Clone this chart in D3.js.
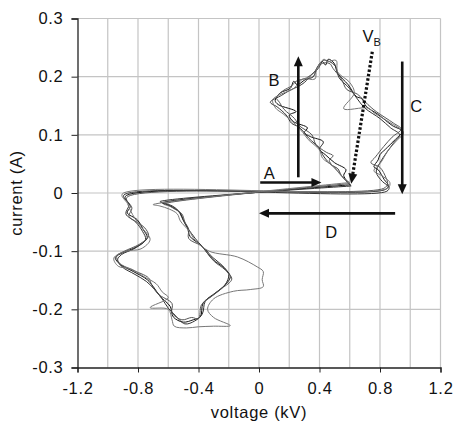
<!DOCTYPE html>
<html><head><meta charset="utf-8">
<script src="https://cdn.jsdelivr.net/npm/d3@7"></script>
<style>
body{margin:0;background:#fff;}
text{font-family:"Liberation Sans",Arial,Helvetica,sans-serif;fill:#111;}
</style></head>
<body><svg id="c" width="456" height="425"></svg>
<script>
// ---- data (voltage kV, current A) ----
const xTicks = [-1.2,-0.8,-0.4,0,0.4,0.8,1.2];
const xTickLabels = ["-1.2","-0.8","-0.4","0","0.4","0.8","1.2"];
const yTicks = [-0.3,-0.2,-0.1,0,0.1,0.2,0.3];
const yTickLabels = ["-0.3","-0.2","-0.1","0","0.1","0.2","0.3"];
const xGrid = [-1.0,-0.8,-0.6,-0.4,-0.2,0,0.2,0.4,0.6,0.8,1.0,1.2];
const yGrid = [-0.2,-0.1,0,0.1,0.2,0.3];

const cycle1Upper = [[0.603,0.014],[0.560,0.030],[0.575,0.040],[0.500,0.052],[0.438,0.066],[0.400,0.075],[0.425,0.088],[0.339,0.097],[0.300,0.104],[0.320,0.112],[0.226,0.123],[0.200,0.134],[0.245,0.140],[0.127,0.152],[0.107,0.159],[0.140,0.172],[0.207,0.180],[0.230,0.192],[0.253,0.186],[0.306,0.195],[0.359,0.200],[0.385,0.216],[0.418,0.226],[0.440,0.220],[0.458,0.230],[0.497,0.223],[0.520,0.206],[0.590,0.186],[0.643,0.166],[0.680,0.162],[0.709,0.149],[0.788,0.135],[0.881,0.116],[0.947,0.106],[0.901,0.092],[0.835,0.075],[0.800,0.066],[0.788,0.057],[0.760,0.045],[0.788,0.040],[0.828,0.023],[0.855,0.013],[0.835,0.006]];
const cycle1Lower = [[-0.884,-0.006],[-0.851,-0.023],[-0.871,-0.034],[-0.805,-0.046],[-0.765,-0.063],[-0.739,-0.077],[-0.805,-0.092],[-0.904,-0.103],[-0.950,-0.111],[-0.917,-0.123],[-0.831,-0.135],[-0.739,-0.149],[-0.699,-0.161],[-0.653,-0.178],[-0.587,-0.195],[-0.567,-0.213],[-0.501,-0.222],[-0.435,-0.218],[-0.388,-0.213],[-0.369,-0.189],[-0.302,-0.175],[-0.236,-0.161],[-0.190,-0.144],[-0.236,-0.128],[-0.302,-0.115],[-0.342,-0.103],[-0.388,-0.089],[-0.455,-0.075],[-0.474,-0.059],[-0.501,-0.046],[-0.521,-0.034],[-0.567,-0.025],[-0.607,-0.020],[-0.640,-0.017]];

const cycle2Upper = [[0.610,0.012],[0.545,0.030],[0.520,0.042],[0.480,0.048],[0.430,0.062],[0.395,0.078],[0.330,0.094],[0.285,0.108],[0.260,0.114],[0.215,0.120],[0.180,0.134],[0.120,0.148],[0.075,0.156],[0.150,0.168],[0.200,0.176],[0.265,0.184],[0.300,0.190],[0.350,0.204],[0.392,0.214],[0.425,0.228],[0.465,0.226],[0.505,0.218],[0.530,0.198],[0.598,0.180],[0.655,0.160],[0.700,0.146],[0.800,0.128],[0.870,0.112],[0.930,0.100],[0.890,0.086],[0.845,0.070],[0.800,0.052],[0.775,0.036],[0.815,0.020],[0.860,0.010],[0.845,0.003]];
const cycle2Lower = [[-0.895,-0.004],[-0.860,-0.020],[-0.880,-0.036],[-0.815,-0.050],[-0.770,-0.066],[-0.750,-0.080],[-0.820,-0.095],[-0.910,-0.106],[-0.935,-0.115],[-0.905,-0.127],[-0.820,-0.140],[-0.745,-0.152],[-0.690,-0.166],[-0.640,-0.182],[-0.600,-0.198],[-0.555,-0.210],[-0.490,-0.225],[-0.425,-0.220],[-0.375,-0.208],[-0.355,-0.186],[-0.290,-0.172],[-0.225,-0.158],[-0.200,-0.140],[-0.245,-0.124],[-0.310,-0.110],[-0.350,-0.098],[-0.400,-0.085],[-0.445,-0.070],[-0.485,-0.055],[-0.510,-0.042],[-0.535,-0.030],[-0.575,-0.022],[-0.620,-0.018],[-0.655,-0.015]];

const cycle3Upper = [[0.595,0.016],[0.525,0.036],[0.465,0.056],[0.490,0.064],[0.445,0.070],[0.375,0.084],[0.350,0.100],[0.265,0.116],[0.235,0.128],[0.165,0.144],[0.135,0.156],[0.115,0.164],[0.160,0.176],[0.215,0.184],[0.245,0.192],[0.315,0.198],[0.365,0.208],[0.400,0.220],[0.440,0.224],[0.470,0.222],[0.490,0.214],[0.545,0.196],[0.580,0.178],[0.650,0.170],[0.720,0.152],[0.775,0.140],[0.890,0.120],[0.940,0.110],[0.880,0.096],[0.825,0.080],[0.770,0.062],[0.740,0.052],[0.800,0.044],[0.840,0.026],[0.850,0.016],[0.825,0.008]];
const cycle3Lower = [[-0.875,-0.008],[-0.840,-0.026],[-0.860,-0.040],[-0.795,-0.052],[-0.755,-0.060],[-0.730,-0.074],[-0.790,-0.088],[-0.890,-0.100],[-0.940,-0.108],[-0.925,-0.120],[-0.840,-0.132],[-0.730,-0.146],[-0.710,-0.158],[-0.665,-0.174],[-0.575,-0.190],[-0.575,-0.206],[-0.510,-0.218],[-0.445,-0.214],[-0.400,-0.216],[-0.380,-0.192],[-0.315,-0.178],[-0.245,-0.164],[-0.180,-0.148],[-0.225,-0.132],[-0.295,-0.118],[-0.335,-0.106],[-0.375,-0.092],[-0.465,-0.078],[-0.465,-0.062],[-0.490,-0.050],[-0.510,-0.036],[-0.555,-0.028],[-0.595,-0.022],[-0.630,-0.019]];

const cycle4Upper = [[0.600,0.018],[0.550,0.028],[0.490,0.046],[0.420,0.060],[0.400,0.074],[0.325,0.092],[0.290,0.104],[0.240,0.118],[0.160,0.136],[0.110,0.146],[0.090,0.160],[0.130,0.168],[0.220,0.178],[0.240,0.182],[0.290,0.196],[0.370,0.196],[0.380,0.212],[0.430,0.230],[0.450,0.226],[0.510,0.228],[0.520,0.208],[0.600,0.190],[0.630,0.172],[0.560,0.145],[0.720,0.146],[0.760,0.138],[0.860,0.122],[0.955,0.104],[0.910,0.090],[0.850,0.072],[0.810,0.054],[0.760,0.038],[0.810,0.030],[0.865,0.018],[0.850,0.008]];
const cycle4Lower = [[-0.905,-0.002],[-0.870,-0.018],[-0.850,-0.030],[-0.820,-0.044],[-0.780,-0.058],[-0.720,-0.080],[-0.780,-0.096],[-0.880,-0.100],[-0.960,-0.112],[-0.930,-0.126],[-0.850,-0.130],[-0.760,-0.144],[-0.680,-0.156],[-0.640,-0.170],[-0.600,-0.180],[-0.720,-0.197],[-0.600,-0.200],[-0.575,-0.218],[-0.560,-0.229],[-0.480,-0.232],[-0.400,-0.230],[-0.300,-0.229],[-0.190,-0.228],[-0.300,-0.214],[-0.340,-0.200],[-0.300,-0.182],[-0.170,-0.169],[-0.058,-0.166],[0.028,-0.161],[0.021,-0.149],[0.028,-0.135],[-0.012,-0.127],[-0.142,-0.110],[-0.330,-0.100],[-0.420,-0.082],[-0.460,-0.066],[-0.520,-0.048],[-0.540,-0.036],[-0.590,-0.028],[-0.660,-0.022],[-0.700,-0.020]];

const cycleColors = ["#111","#333","#555","#777"];

// annotations (data coords)
const arrowA = [[0.008,0.018],[0.413,0.018]];
const arrowB = [[0.26,0.027],[0.26,0.235]];
const arrowC = [[0.947,0.226],[0.947,-0.002]];
const arrowD = [[0.90,-0.035],[0.0,-0.035]];
const arrowVB = [[0.749,0.243],[0.61,0.016]];
const labels = [{t:"A",p:[0.068,0.035]},{t:"B",p:[0.10,0.195]},{t:"C",p:[1.04,0.15]},{t:"D",p:[0.478,-0.068]}];
const vbLabel = [0.745,0.269];

// ---- drawing ----
const svg = d3.select("#c");
const x = d3.scaleLinear([-1.2,1.2],[77.5,440.5]);
const y = d3.scaleLinear([-0.3,0.3],[367.5,18.5]);
const fs = "16.5px", ls = "0.7px";

// grid
svg.append("g").selectAll("line").data(xGrid).join("line")
  .attr("x1",d=>x(d)).attr("x2",d=>x(d)).attr("y1",y(-0.3)).attr("y2",y(0.3))
  .attr("stroke","#c4c4c4").attr("stroke-width",1.2);
svg.append("g").selectAll("line").data(yGrid).join("line")
  .attr("y1",d=>y(d)).attr("y2",d=>y(d)).attr("x1",x(-1.2)).attr("x2",x(1.2))
  .attr("stroke","#c4c4c4").attr("stroke-width",1.2);

// axes
const xAxis = d3.axisBottom(x).tickValues(xTicks).tickSize(5).tickPadding(7)
  .tickFormat((d,i)=>xTickLabels[i]);
const yAxis = d3.axisLeft(y).tickValues(yTicks).tickSize(6).tickPadding(8)
  .tickFormat((d,i)=>yTickLabels[i]);
const gx = svg.append("g").attr("transform",`translate(0,${y(-0.3)})`).call(xAxis);
const gy = svg.append("g").attr("transform",`translate(${x(-1.2)},0)`).call(yAxis);
[gx,gy].forEach(g=>{
  g.select(".domain").attr("stroke","#222").attr("stroke-width",1.3);
  g.selectAll(".tick line").attr("stroke","#222");
  g.selectAll("text").attr("font-family","Liberation Sans, Arial, sans-serif")
    .attr("font-size",fs).attr("letter-spacing",ls).attr("fill","#111");
});
gx.selectAll("text").attr("dy","0.9em");

// curves
const line = d3.line().x(d=>x(d[0])).y(d=>y(d[1])).curve(d3.curveCatmullRom.alpha(0.5));
const cycles = [[cycle1Upper,cycle1Lower],[cycle2Upper,cycle2Lower],[cycle3Upper,cycle3Lower],[cycle4Upper,cycle4Lower]];
const cg = svg.append("g");
cycles.forEach((c,i)=>{
  const pts = c[0].concat(c[1]).concat([c[0][0]]);
  cg.append("path").attr("d",line(pts)).attr("fill","none")
    .attr("stroke",cycleColors[i]).attr("stroke-width",1);
});

// arrows
function arrow(seg, dashed){
  const [x1,y1]=[x(seg[0][0]),y(seg[0][1])], [x2,y2]=[x(seg[1][0]),y(seg[1][1])];
  const L=Math.hypot(x2-x1,y2-y1), ux=(x2-x1)/L, uy=(y2-y1)/L;
  const hl=10, hw=4.5;
  const bx=x2-ux*hl, by=y2-uy*hl;
  svg.append("line").attr("x1",x1).attr("y1",y1).attr("x2",bx+ux*1).attr("y2",by+uy*1)
    .attr("stroke","#111").attr("stroke-width",dashed?3.2:2.6)
    .attr("stroke-dasharray",dashed?"2.5,2":null);
  svg.append("path").attr("d",`M${x2},${y2}L${bx-uy*hw},${by+ux*hw}L${bx+uy*hw},${by-ux*hw}Z`)
    .attr("fill","#111");
}
[arrowA,arrowB,arrowC,arrowD].forEach(a=>arrow(a,false));
arrow(arrowVB,true);

svg.append("g").selectAll("text").data(labels).join("text")
  .attr("x",d=>x(d.p[0])).attr("y",d=>y(d.p[1])).attr("dy","0.36em")
  .attr("text-anchor","middle").attr("font-size",fs).text(d=>d.t);
const vb = svg.append("text").attr("x",x(vbLabel[0])).attr("y",y(vbLabel[1])).attr("dy","0.36em")
  .attr("text-anchor","middle").attr("font-size",fs);
vb.append("tspan").text("V");
vb.append("tspan").attr("font-size","11px").attr("dy","4").text("B");

// axis titles
svg.append("text").attr("x",(x(-1.2)+x(1.2))/2).attr("y",418).attr("text-anchor","middle")
  .attr("font-size",fs).attr("letter-spacing",ls).text("voltage (kV)");
svg.append("text").attr("transform",`translate(22,${y(0)}) rotate(-90)`).attr("text-anchor","middle")
  .attr("font-size",fs).attr("letter-spacing",ls).text("current (A)");
</script></body></html>
